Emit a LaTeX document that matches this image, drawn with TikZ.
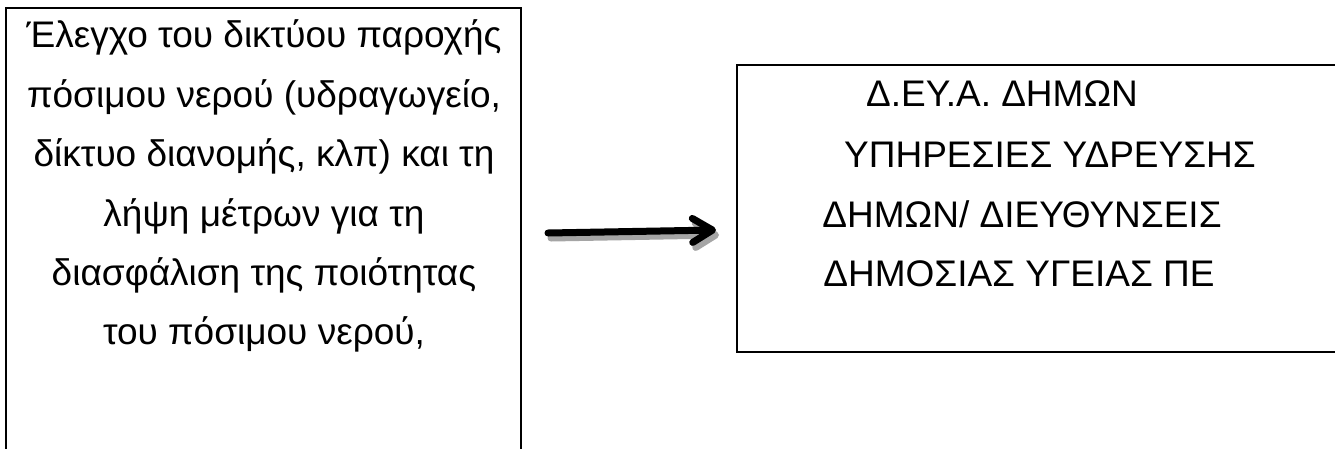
\documentclass[tikz,border=0pt]{standalone}
\usepackage{fontspec}
\setmainfont{Liberation Sans}
\usetikzlibrary{arrows.meta}
\definecolor{shadowgray}{RGB}{165,165,165}
\begin{document}
\begin{tikzpicture}[x=1pt,y=-1pt,
  box/.style={draw=black, line width=2.6pt, inner sep=0pt, outer sep=0pt, anchor=north west},
  txt/.style={font=\fontsize{37}{40}\selectfont, anchor=base, inner sep=0pt},
  arr/.style={line width=7pt, line cap=round, -{Straight Barb[length=20pt, width=24pt, round]}}]
\clip (0,0) rectangle (1335,448);
\useasboundingbox (0,0) rectangle (1335,448);
\fill[white] (0,0) rectangle (1335,448);
% boxes
\node[box, minimum width=515pt, minimum height=470pt] (leftbox) at (6,8) {};
\node[box, minimum width=620pt, minimum height=287pt] (rightbox) at (737,65) {};
% left text
\node[txt] (l1) at (264,47) {Έλεγχο του δικτύου παροχής};
\node[txt] (l2) at (264,107) {πόσιμου νερού (υδραγωγείο,};
\node[txt] (l3) at (264,166) {δίκτυο διανομής, κλπ) και τη};
\node[txt] (l4) at (264,226) {λήψη μέτρων για τη};
\node[txt] (l5) at (264,285) {διασφάλιση της ποιότητας};
\node[txt] (l6) at (264,344) {του πόσιμου νερού,};
% right text
\node[txt] (r1) at (1002,106) {Δ.ΕΥ.Α. ΔΗΜΩΝ};
\node[txt] (r2) at (1050,167) {ΥΠΗΡΕΣΙΕΣ ΥΔΡΕΥΣΗΣ};
\node[txt] (r3) at (1022,227) {ΔΗΜΩΝ/ ΔΙΕΥΘΥΝΣΕΙΣ};
\node[txt] (r4) at (1019,286) {ΔΗΜΟΣΙΑΣ ΥΓΕΙΑΣ ΠΕ};
% arrow
\coordinate (a1) at (548,233);
\coordinate (a2) at (716,230);
\draw[arr, shadowgray, transform canvas={shift={(3pt,-5pt)}}] (a1) -- (a2);
\draw[arr, black] (a1) -- (a2);
\end{tikzpicture}
\end{document}
